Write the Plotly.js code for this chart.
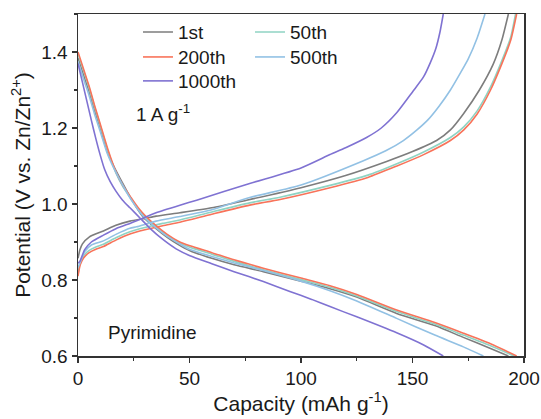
<!DOCTYPE html>
<html>
<head>
<meta charset="utf-8">
<script src="https://cdn.plot.ly/plotly-3.0.1.min.js"></script>
<style>html,body{margin:0;padding:0;background:#fff;}#chart{width:541px;height:419px;}</style>
</head>
<body>
<div id="chart"></div>
<script>
// Cycle labels and colours
const cycleNames = ["1st", "50th", "200th", "500th", "1000th"];
const cycleColors = ["#7d7d7d", "#8fd3c3", "#f8735a", "#92c1e4", "#7f72d2"];
const cycleLegend = ["legend", "legend2", "legend3", "legend4", "legend5"];

// Charge curves (capacity mAh g-1, potential V)
const chargeCap_1st   = [0, 0.9, 2, 5, 11.4, 17, 23.3, 30, 35, 45.7, 60, 75.6, 100, 120, 138.4, 150, 160.8, 167, 172.8, 180, 186.2, 190, 193];
const chargeV_1st     = [0.857, 0.88, 0.895, 0.913, 0.929, 0.944, 0.955, 0.962, 0.968, 0.977, 0.99, 1.01, 1.043, 1.075, 1.112, 1.138, 1.167, 1.195, 1.237, 1.30, 1.368, 1.43, 1.5];
const chargeCap_50th  = [0, 1, 2.5, 5, 8, 11.4, 17, 23.3, 30, 38, 45.7, 60, 77, 90.6, 113, 130, 143, 155, 167, 173, 179, 185, 190, 194, 196.2];
const chargeV_50th    = [0.815, 0.846, 0.864, 0.878, 0.887, 0.894, 0.911, 0.927, 0.938, 0.949, 0.958, 0.979, 1.003, 1.018, 1.049, 1.076, 1.106, 1.137, 1.175, 1.203, 1.245, 1.308, 1.376, 1.438, 1.5];
const chargeCap_200th = [0, 1, 2.5, 5, 8, 11.4, 17, 23.3, 30, 38, 45.7, 60, 77, 90.6, 113, 130, 143, 155, 167, 173, 179, 185, 190, 194, 196.7];
const chargeV_200th   = [0.81, 0.84, 0.858, 0.872, 0.881, 0.888, 0.905, 0.921, 0.932, 0.943, 0.952, 0.973, 0.997, 1.012, 1.043, 1.07, 1.10, 1.13, 1.167, 1.195, 1.237, 1.30, 1.368, 1.43, 1.5];
const chargeCap_500th = [0, 0.9, 3, 6, 11.4, 17, 23.3, 26.3, 35, 45.7, 60, 77, 100, 128, 138, 145.9, 152, 157, 162, 167, 171.5, 175, 179, 182.5];
const chargeV_500th   = [0.833, 0.845, 0.875, 0.892, 0.903, 0.92, 0.936, 0.94, 0.955, 0.967, 0.985, 1.017, 1.05, 1.114, 1.14, 1.167, 1.195, 1.222, 1.258, 1.30, 1.345, 1.382, 1.437, 1.5];
const chargeCap_1000th = [0, 0.9, 3, 6, 11.4, 17, 23.3, 26.3, 35, 45.7, 53.2, 77, 100, 113, 120, 129.4, 136, 142.9, 150, 155, 158, 160.5, 162.3, 163.8];
const chargeV_1000th   = [0.844, 0.85, 0.88, 0.9, 0.918, 0.935, 0.949, 0.956, 0.977, 0.997, 1.01, 1.054, 1.095, 1.13, 1.148, 1.175, 1.2, 1.24, 1.295, 1.335, 1.372, 1.41, 1.452, 1.5];

// Discharge curves
const dischargeCap_1st   = [0, 3, 5, 7.5, 10, 13, 16, 20, 24, 29, 35, 40, 45, 50.2, 60, 70, 83.1, 100, 113, 125, 142.9, 160, 172.8, 185, 193];
const dischargeV_1st     = [1.385, 1.33, 1.295, 1.245, 1.2, 1.14, 1.1, 1.055, 1.012, 0.967, 0.935, 0.912, 0.893, 0.877, 0.857, 0.84, 0.822, 0.797, 0.777, 0.755, 0.712, 0.68, 0.649, 0.62, 0.6];
const dischargeCap_50th  = [0, 3.1, 5, 7.6, 10, 13.5, 17, 20, 24, 27, 30.5, 35, 40, 45, 50.2, 60, 70, 83.1, 100, 113, 125, 142.9, 160, 172.8, 185, 195.6];
const dischargeV_50th    = [1.395, 1.34, 1.305, 1.252, 1.206, 1.138, 1.082, 1.047, 1.012, 0.987, 0.964, 0.94, 0.917, 0.899, 0.886, 0.868, 0.849, 0.827, 0.801, 0.781, 0.758, 0.717, 0.684, 0.655, 0.627, 0.6];
const dischargeCap_200th = [0, 3.1, 5, 7.6, 10, 13.5, 17, 20, 24, 27, 30.5, 35, 40, 45, 50.2, 60, 70, 83.1, 100, 113, 125, 142.9, 160, 172.8, 185, 196.7];
const dischargeV_200th   = [1.40, 1.344, 1.31, 1.256, 1.21, 1.142, 1.085, 1.05, 1.015, 0.99, 0.967, 0.943, 0.92, 0.902, 0.89, 0.872, 0.853, 0.831, 0.805, 0.785, 0.762, 0.721, 0.688, 0.66, 0.632, 0.6];
const dischargeCap_500th = [0, 3, 5, 7.5, 10, 13, 16, 20, 24, 29.7, 35, 40, 45, 50.2, 60, 70, 83.1, 100, 113, 125, 142.9, 160, 172.8, 181.8];
const dischargeV_500th   = [1.375, 1.32, 1.285, 1.235, 1.19, 1.135, 1.095, 1.05, 1.01, 0.965, 0.937, 0.915, 0.897, 0.88, 0.862, 0.845, 0.825, 0.797, 0.772, 0.745, 0.699, 0.655, 0.624, 0.6];
const dischargeCap_1000th = [0, 2, 4, 6, 8, 10, 12, 14.5, 17, 20, 23.3, 28, 32.3, 38.2, 44, 50.2, 60, 70, 83.1, 95, 104.8, 113, 125, 142.9, 155, 163.8];
const dischargeV_1000th   = [1.37, 1.32, 1.27, 1.22, 1.172, 1.128, 1.09, 1.058, 1.034, 1.01, 0.99, 0.962, 0.936, 0.906, 0.882, 0.864, 0.843, 0.822, 0.796, 0.77, 0.749, 0.73, 0.703, 0.661, 0.629, 0.6];

// Axis ticks
const xTicks = [0, 50, 100, 150, 200];
const yTicks = [0.6, 0.8, 1.0, 1.2, 1.4];
const yTickText = ["0.6", "0.8", "1.0", "1.2", "1.4"];

const chargeCaps = [chargeCap_1st, chargeCap_50th, chargeCap_200th, chargeCap_500th, chargeCap_1000th];
const chargeVs = [chargeV_1st, chargeV_50th, chargeV_200th, chargeV_500th, chargeV_1000th];
const dischargeCaps = [dischargeCap_1st, dischargeCap_50th, dischargeCap_200th, dischargeCap_500th, dischargeCap_1000th];
const dischargeVs = [dischargeV_1st, dischargeV_50th, dischargeV_200th, dischargeV_500th, dischargeV_1000th];

const FONT = "Liberation Sans, Arial, sans-serif";
const traces = cycleNames.map((name, i) => ({
  type: "scatter",
  mode: "lines",
  name: name,
  legend: cycleLegend[i],
  x: chargeCaps[i].concat([null], dischargeCaps[i]),
  y: chargeVs[i].concat([null], dischargeVs[i]),
  connectgaps: false,
  line: {color: cycleColors[i], width: 1.6, shape: "spline", smoothing: 0.6},
  hoverinfo: "skip"
}));

function legendAt(x, y) {
  return {x: x, y: y, xanchor: "left", yanchor: "middle", bgcolor: "rgba(0,0,0,0)",
          font: {size: 19, family: FONT}, tracegroupgap: 0, itemwidth: 30};
}

const layout = {
  width: 541, height: 419,
  margin: {l: 78, r: 17, t: 14, b: 63},
  paper_bgcolor: "#fff", plot_bgcolor: "#fff",
  font: {family: FONT, color: "#1a1a1a", size: 19},
  showlegend: true,
  xaxis: {
    range: [0, 200], tickvals: xTicks, ticks: "outside", ticklen: 5, tickwidth: 1.3,
    tickcolor: "#333", showline: true, linecolor: "#333", linewidth: 1.5, mirror: true,
    showgrid: false, zeroline: false, tickfont: {size: 19, family: FONT},
    minor: {dtick: 25, tick0: 0, ticks: "outside", ticklen: 3, tickwidth: 1.3, tickcolor: "#333", showgrid: false},
    title: {text: "Capacity (mAh g<sup>-1</sup>)", font: {size: 21, family: FONT}, standoff: 4}
  },
  yaxis: {
    range: [0.6, 1.5], tickvals: yTicks, ticktext: yTickText, ticks: "outside", ticklen: 5, tickwidth: 1.3,
    tickcolor: "#333", showline: true, linecolor: "#333", linewidth: 1.5, mirror: true,
    showgrid: false, zeroline: false, tickfont: {size: 19, family: FONT},
    minor: {dtick: 0.1, tick0: 0.6, ticks: "outside", ticklen: 3, tickwidth: 1.3, tickcolor: "#333", showgrid: false},
    title: {text: "Potential (V vs. Zn/Zn<sup>2+</sup>)", font: {size: 21, family: FONT}, standoff: 5}
  },
  legend: legendAt(0.1345, 0.947),
  legend2: legendAt(0.3857, 0.947),
  legend3: legendAt(0.1345, 0.874),
  legend4: legendAt(0.3857, 0.874),
  legend5: legendAt(0.1345, 0.804),
  annotations: [
    {text: "1 A g<sup>-1</sup>", xref: "paper", yref: "paper", x: 0.125, y: 0.71, xanchor: "left", yanchor: "middle", showarrow: false, font: {size: 19, family: FONT}},
    {text: "Pyrimidine", xref: "paper", yref: "paper", x: 0.063, y: 0.07, xanchor: "left", yanchor: "middle", showarrow: false, font: {size: 19, family: FONT}}
  ]
};

Plotly.newPlot("chart", traces, layout, {displayModeBar: false, staticPlot: true});
</script>
</body>
</html>
